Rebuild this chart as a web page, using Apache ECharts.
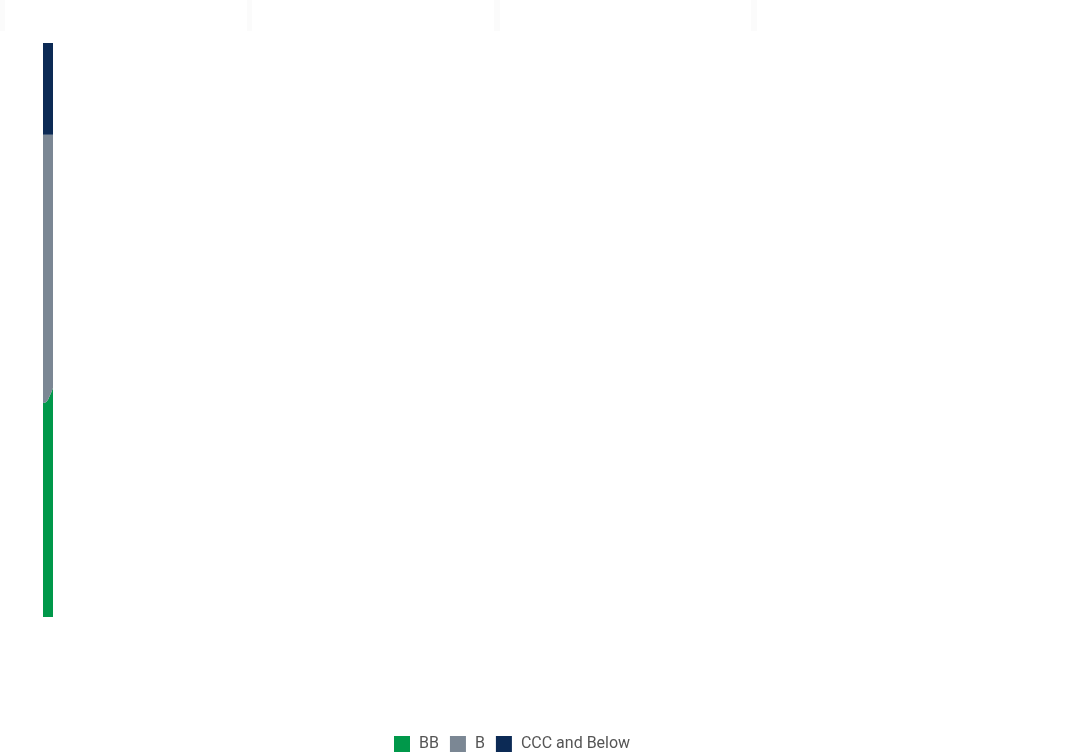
<!DOCTYPE html>
<html>
<head>
<meta charset="utf-8">
<script src="https://cdn.jsdelivr.net/npm/echarts@6/dist/echarts.min.js"></script>
<style>
html,body{margin:0;padding:0;background:#fff;}
#chart{width:1076px;height:752px;}
</style>
</head>
<body>
<div id="chart"></div>
<script>
const categories = ['P1', 'P2', 'P3', 'P4'];
const bbValues = [37.3, 37.5, 38.5, 39.9];
const bValues = [46.7, 46.5, 45.5, 44.1];
const cccValues = [16.0, 16.0, 16.0, 16.0];
const legendNames = ['BB', 'B', 'CCC and Below'];

const chart = echarts.init(document.getElementById('chart'));

function areaSeries(name, data, color) {
  return {
    name: name,
    type: 'line',
    stack: 'total',
    smooth: true,
    symbol: 'none',
    data: data,
    itemStyle: { color: color },
    lineStyle: { width: 0, color: color },
    areaStyle: { color: color, opacity: 1 }
  };
}

chart.setOption({
  animation: false,
  backgroundColor: '#ffffff',
  graphic: [
    { type: 'rect', shape: { x: 0, y: 0, width: 5, height: 31 }, style: { fill: '#fbfbfb' } },
    { type: 'rect', shape: { x: 247, y: 0, width: 5, height: 31 }, style: { fill: '#fbfbfb' } },
    { type: 'rect', shape: { x: 494, y: 0, width: 6, height: 31 }, style: { fill: '#fbfbfb' } },
    { type: 'rect', shape: { x: 751, y: 0, width: 6, height: 31 }, style: { fill: '#fbfbfb' } }
  ],
  grid: { left: 43, top: 43, width: 10, height: 574, containLabel: false },
  xAxis: {
    type: 'category',
    data: categories,
    boundaryGap: false,
    show: false
  },
  yAxis: {
    type: 'value',
    min: 0,
    max: 100,
    show: false
  },
  legend: {
    data: legendNames,
    left: 389,
    top: 731,
    itemWidth: 16,
    itemHeight: 16,
    itemGap: 11,
    icon: 'rect',
    textStyle: { fontFamily: 'Roboto', fontSize: 16, color: '#555555', padding: [0, 0, 0, 4] }
  },
  series: [
    areaSeries('BB', bbValues, '#00984A'),
    areaSeries('B', bValues, '#7B8794'),
    areaSeries('CCC and Below', cccValues, '#0C2A55')
  ]
});
</script>
</body>
</html>
